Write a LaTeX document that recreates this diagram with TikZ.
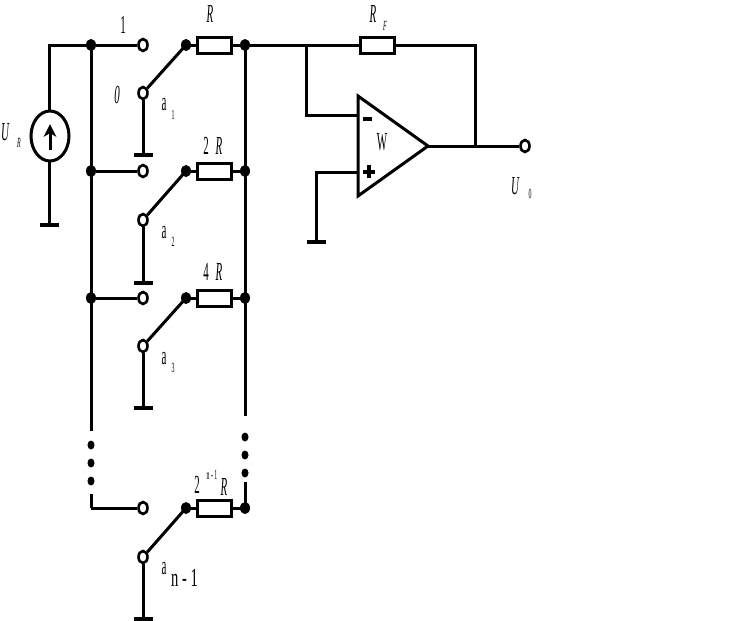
\documentclass[tikz,border=0pt]{standalone}
\usepackage{graphicx}
\usepackage{fontspec}
\setmainfont{Liberation Serif}
\newcommand{\sq}[2][0.42]{\scalebox{#1}[1]{#2}}
\usetikzlibrary{shapes.geometric}
\tikzset{
 x=1pt,y=-1pt,
 wire/.style={line width=3pt,line cap=butt,line join=miter},
 jdot/.style={ellipse,fill=black,draw=none,minimum width=10pt,minimum height=12pt,inner sep=0pt},
 smalldot/.style={ellipse,fill=black,draw=none,minimum width=7pt,minimum height=9pt,inner sep=0pt},
 contact/.style={ellipse,draw=black,fill=white,line width=2.6pt,minimum width=9pt,minimum height=12pt,inner sep=0pt},
 res/.style={rectangle,draw=black,fill=white,line width=3pt,minimum width=34pt,minimum height=16pt,inner sep=0pt},
 gnd/.style={rectangle,fill=black,draw=none,minimum width=19pt,minimum height=4pt,inner sep=0pt},
 lab/.style={inner sep=0pt,font=\fontsize{26}{26}\selectfont},
 sub/.style={inner sep=0pt,font=\fontsize{14}{14}\selectfont},
}
\begin{document}
\begin{tikzpicture}
\useasboundingbox (0,0) rectangle (750,621);
% source
\coordinate (tl) at (49,45);
\node[gnd] (g0) at (49,225) {};
\node[jdot] (b1) at (91,45) {};
\node[jdot] (b2) at (91,171) {};
\node[jdot] (b3) at (91,298) {};
\coordinate (ltop) at (91,431);
\coordinate (lbot) at (91,494);
\coordinate (lcor) at (91,508);
\node[smalldot] at (91,445) {};
\node[smalldot] at (91,463) {};
\node[smalldot] at (91,481) {};
\node[smalldot] at (245,437) {};
\node[smalldot] at (245,455) {};
\node[smalldot] at (245,473) {};
\draw[wire] (g0.center) -- (tl) -- (b1.center);
\draw[wire] (b1.center) -- (ltop);
\draw[wire] (lbot) -- (lcor);
% rows
\foreach \n/\y/\p/\g/\w in {1/45/93/155/b1,2/171/220/283/b2,3/298/346/408/b3,4/508/557/619/lcor}{
  \node[contact] (c\n) at (143,\y) {};
  \node[contact] (p\n) at (143,\p) {};
  \node[gnd] (g\n) at (143,\g) {};
  \node[jdot] (s\n) at (186,\y) {};
  \node[jdot] (o\n) at (245,\y) {};
  \node[res] (r\n) at (214.5,\y) {};
  \draw[wire] (\w) -- (c\n);
  \draw[wire] (p\n) -- (g\n.center);
  \draw[wire] (p\n) -- (s\n.center);
  \draw[wire] (s\n.center) -- (r\n);
  \draw[wire] (r\n) -- (o\n.center);
}
\coordinate (rtop) at (245,416);
\coordinate (rbot) at (245,482);
\draw[wire] (o1.center) -- (rtop);
\draw[wire] (rbot) -- (o4.center);
% source symbol
\node[ellipse,draw=black,fill=white,line width=3pt,minimum width=38pt,minimum height=50pt,inner sep=0pt] (src) at (50,136) {};
\coordinate (aS) at (50,150);
\coordinate (aE) at (50,124);
\draw[wire,line width=3pt] (aS) -- (50,132);
\fill (aE) -- (56.5,137) -- (50,133) -- (43.5,137) -- cycle;
% op amp
\coordinate (t1) at (358,96);
\coordinate (t2) at (358,196);
\coordinate (t3) at (428,146);
\coordinate (n1) at (306,45);
\coordinate (n2) at (306,115);
\coordinate (minus) at (358,115);
\coordinate (plus) at (358,172);
\coordinate (p2) at (316,172);
\node[gnd] (g5) at (316,242) {};
\node[res] (rf) at (377,45) {};
\coordinate (fb1) at (475,45);
\coordinate (fb2) at (475,146);
\node[contact] (out) at (525,146) {};
\draw[wire] (o1.center) -- (rf);
\draw[wire] (rf) -- (fb1) -- (fb2);
\draw[wire] (n1) -- (n2) -- (minus);
\draw[wire] (plus) -- (p2) -- (g5.center);
\draw[wire] (t3) -- (out);
\draw[wire,line width=3pt] (t1) -- (t3) -- (t2) -- cycle;
\fill (363,117) rectangle (372,121);
\fill (363,169.5) rectangle (375,173.5);
\fill (367,165) rectangle (371,178);
% labels
\node[lab] at (123,25) {\sq{1}};
\node[lab] at (117,95) {\sq{\itshape 0}};
\node[lab] at (210,14) {\sq{\itshape R}};
\node[lab] at (206,146) {\sq{2}};
\node[lab] at (219,146) {\sq{\itshape R}};
\node[lab] at (206,272) {\sq{4}};
\node[lab] at (219,272) {\sq{\itshape R}};
\node[lab] at (373,14) {\sq{\itshape R}};
\node[sub] at (385,26) {\sq{\itshape F}};
\node[lab] at (5,132) {\sq{\itshape U}};
\node[sub] at (19,143) {\sq{\itshape R}};
\node[lab] at (382,142) {\sq{W}};
\node[lab] at (515,186) {\sq{\itshape U}};
\node[sub] at (530,194) {\sq{0}};
\node[lab] at (164,105) {\sq{a}};
\node[sub] at (173,115) {\sq{1}};
\node[lab] at (164,233) {\sq{a}};
\node[sub] at (173,242) {\sq{2}};
\node[lab] at (164,359) {\sq{a}};
\node[sub] at (173,368) {\sq{3}};
\node[lab] at (164,569) {\sq{a}};
\node[lab] at (184.5,578) {\sq[0.56]{n - 1}};
\node[lab] at (197,485) {\sq{2}};
\node[sub] at (212,475) {\sq{n - 1}};
\node[lab] at (224,487) {\sq{\itshape R}};
\end{tikzpicture}
\end{document}
